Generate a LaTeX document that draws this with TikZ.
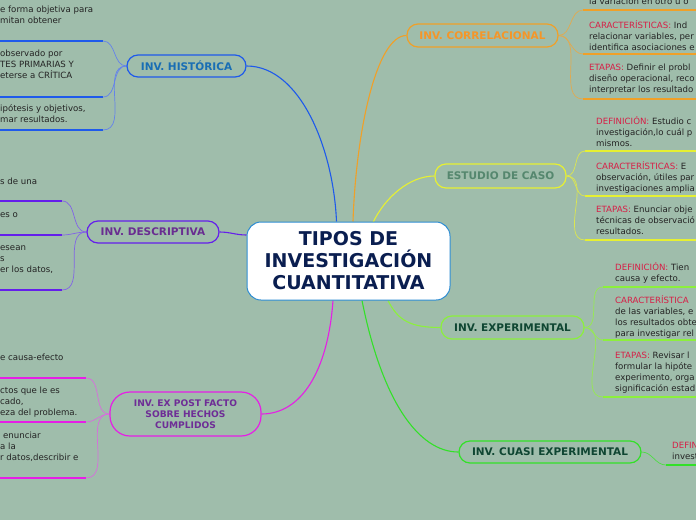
\documentclass[tikz,border=0pt]{standalone}
\usepackage{fontspec}
\setmainfont{DejaVu Sans}
\usepackage{xcolor}
\usepackage{tikz}
\usetikzlibrary{calc,backgrounds}
\definecolor{sage}{RGB}{159,189,171}
\definecolor{hubblue}{RGB}{45,140,210}
\definecolor{navy}{RGB}{10,30,80}
\definecolor{leafink}{RGB}{35,35,35}
\definecolor{crimson}{RGB}{215,30,70}
\definecolor{histline}{RGB}{30,90,235}
\definecolor{histtext}{RGB}{25,110,180}
\definecolor{histsoft}{RGB}{100,130,235}
\definecolor{descline}{RGB}{100,30,235}
\definecolor{desctext}{RGB}{105,45,145}
\definecolor{descsoft}{RGB}{130,100,230}
\definecolor{expline}{RGB}{230,30,230}
\definecolor{exptext}{RGB}{110,45,150}
\definecolor{expsoft}{RGB}{215,110,220}
\definecolor{corline}{RGB}{240,160,40}
\definecolor{cortext}{RGB}{245,150,40}
\definecolor{corsoft}{RGB}{225,170,80}
\definecolor{estline}{RGB}{230,240,50}
\definecolor{esttext}{RGB}{85,135,110}
\definecolor{estsoft}{RGB}{220,230,80}
\definecolor{xline}{RGB}{140,240,60}
\definecolor{xtext}{RGB}{15,70,50}
\definecolor{xsoft}{RGB}{150,235,80}
\definecolor{qline}{RGB}{50,225,40}
\definecolor{qsoft}{RGB}{80,220,70}
\newcommand{\tagred}[1]{\textcolor{crimson}{#1}}
\tikzset{
  hub/.style={draw=hubblue,line width=1pt,fill=white,rounded corners=14pt,
    minimum width=203pt,minimum height=78pt,align=center,text=navy,
    font=\bfseries\fontsize{19}{22}\selectfont,inner sep=0pt},
  branch/.style={line width=1.2pt,rounded corners=11pt,align=center,
    font=\bfseries\fontsize{10.5}{11}\selectfont,inner sep=0pt},
  leaf/.style={anchor=north west,inner sep=0pt,align=left,text=leafink,
    font=\fontsize{8.6}{11}\selectfont},
  link/.style={line width=1.1pt},
  twig/.style={line width=0.7pt},
  uline/.style={line width=2pt}
}

\begin{document}
\begin{tikzpicture}[x=1pt,y=-1pt]
  \useasboundingbox (0,0) rectangle (696,520);
  % centre and branches
  \node[hub] (hub) at (348.5,261) {TIPOS DE\\INVESTIGACIÓN\\CUANTITATIVA};
  \node[branch,draw=histline,text=histtext,minimum width=119pt,minimum height=22pt]
    (hist) at (186.5,66) {INV. HISTÓRICA};
  \node[branch,draw=descline,text=desctext,minimum width=132pt,minimum height=22pt]
    (desc) at (153,232) {INV. DESCRIPTIVA};
  \node[branch,draw=expline,text=exptext,minimum width=151pt,minimum height=44pt,
    rounded corners=20pt,font=\bfseries\fontsize{9.1}{11}\selectfont]
    (expost) at (185.5,414) {INV. EX POST FACTO\\SOBRE HECHOS\\CUMPLIDOS};
  \node[branch,draw=corline,text=cortext,minimum width=151pt,minimum height=23pt]
    (correl) at (482.5,35.5) {INV. CORRELACIONAL};
  \node[branch,draw=estline,text=esttext,minimum width=131pt,minimum height=24pt]
    (caso) at (500.5,176) {ESTUDIO DE CASO};
  \node[branch,draw=xline,text=xtext,minimum width=143pt,minimum height=23pt]
    (exper) at (512.5,327.5) {INV. EXPERIMENTAL};
  \node[branch,draw=qline,text=xtext,minimum width=182pt,minimum height=22pt]
    (cuasi) at (550,452) {INV. CUASI EXPERIMENTAL};

  % leaves, left side
  \node[leaf] (h1) at (0,5) {\strut e forma objetiva para\\mitan obtener};
  \node[leaf] (h2) at (0,49) {\strut observado por\\TES PRIMARIAS Y\\eterse a CRÍTICA};
  \node[leaf] (h3) at (0,104) {\strut ipótesis y objetivos,\\mar resultados.};
  \node[leaf] (d1) at (0,177) {\strut s de una};
  \node[leaf] (d2) at (0,210) {\strut es o};
  \node[leaf] (d3) at (0,243) {\strut esean\\s\\er los datos,};
  \node[leaf] (e1) at (0,353) {\strut e causa-efecto};
  \node[leaf] (e2) at (0,386) {\strut ctos que le es\\cado,\\eza del problema.};
  \node[leaf] (e3) at (0,431) {\strut\hspace*{3pt}enunciar\\a la\\r datos,describir e};

  % leaves, right side
  \node[leaf] (c1) at (589,-3) {\strut la variación en otro u o};
  \node[leaf] (c2) at (589,20) {\strut\tagred{CARACTERÍSTICAS:} Ind\\relacionar variables, per\\identifica asociaciones e};
  \node[leaf] (c3) at (589,63) {\strut\tagred{ETAPAS:} Definir el probl\\diseño operacional, reco\\interpretar los resultado};
  \node[leaf] (s1) at (596,116) {\strut\tagred{DEFINICIÓN:} Estudio c\\investigación,lo cuál p\\mismos.};
  \node[leaf] (s2) at (596,161) {\strut\tagred{CARACTERÍSTICAS:} E\\observación, útiles par\\investigaciones amplia};
  \node[leaf] (s3) at (596,205) {\strut\tagred{ETAPAS:} Enunciar obje\\técnicas de observació\\resultados.};
  \node[leaf] (x1) at (615,262) {\strut\tagred{DEFINICIÓN:} Tien\\causa y efecto.};
  \node[leaf] (x2) at (615,295) {\strut\tagred{CARACTERÍSTICA}\\de las variables, e\\los resultados obte\\para investigar rel};
  \node[leaf] (x3) at (615,351) {\strut\tagred{ETAPAS:} Revisar l\\formular la hipóte\\experimento, orga\\significación estad};
  \node[leaf] (q1) at (672,441) {\strut\tagred{DEFIN}\\invest};

  \begin{pgfonlayer}{background}
    \fill[sage] (0,0) rectangle (696,520);
    % links from the centre
    \draw[link,histline] ($(hub.north)+(-12,0)$) .. controls +(-3,-72) and +(54,0) .. (hist.east);
    \draw[link,corline] ($(hub.north)+(4.5,0)$) .. controls +(3,-90) and +(-30,0) .. (correl.west);
    \draw[link,estline] ($(hub.north)+(24.5,1)$) .. controls +(12,-25) and +(-25,0) .. (caso.west);
    \draw[link,descline] (desc.east) to[out=0,in=180] ($(hub.west)+(0,-26)$);
    \draw[link,expline] ($(hub.south)+(-15.5,0)$) .. controls +(-5,70) and +(40,0) .. (expost.east);
    \draw[link,xline] ($(hub.south)+(39.5,0)$) .. controls +(10,20) and +(-30,0) .. (exper.west);
    \draw[link,qline] ($(hub.south)+(13.5,0)$) .. controls +(20,100) and +(-40,0) .. (cuasi.west);
    % underlines and twigs
    \foreach \y in {41,97,130}{
      \coordinate (hu\y) at (103,\y);
      \draw[uline,histline] (0,\y) -- (hu\y);
      \draw[twig,histsoft] (hist.west) to[out=180,in=0] (hu\y);
    }
    \foreach \y in {201,235,290}{
      \coordinate (du\y) at (62,\y);
      \draw[uline,descline] (0,\y) -- (du\y);
      \draw[twig,descsoft] (desc.west) to[out=180,in=0] (du\y);
    }
    \foreach \y in {378,422,478}{
      \coordinate (eu\y) at (86,\y);
      \draw[uline,expline] (0,\y) -- (eu\y);
      \draw[twig,expsoft] (expost.west) to[out=180,in=0] (eu\y);
    }
    \foreach \y in {10,54,99}{
      \coordinate (cu\y) at (583,\y);
      \draw[uline,corline] (cu\y) -- (696,\y);
      \draw[twig,corsoft] (correl.east) to[out=0,in=180] (cu\y);
    }
    \foreach \y in {151,196,240}{
      \coordinate (su\y) at (585,\y);
      \draw[uline,estline] (su\y) -- (696,\y);
      \draw[twig,estsoft] (caso.east) to[out=0,in=180] (su\y);
    }
    \foreach \y in {287,340,397}{
      \coordinate (xu\y) at (603,\y);
      \draw[uline,xline] (xu\y) -- (696,\y);
      \draw[twig,xsoft] (exper.east) to[out=0,in=180] (xu\y);
    }
    \coordinate (qu) at (666,465);
    \draw[uline,qline] (qu) -- (696,465);
    \draw[twig,qsoft] (cuasi.east) to[out=0,in=180] (qu);
  \end{pgfonlayer}
\end{tikzpicture}
\end{document}
